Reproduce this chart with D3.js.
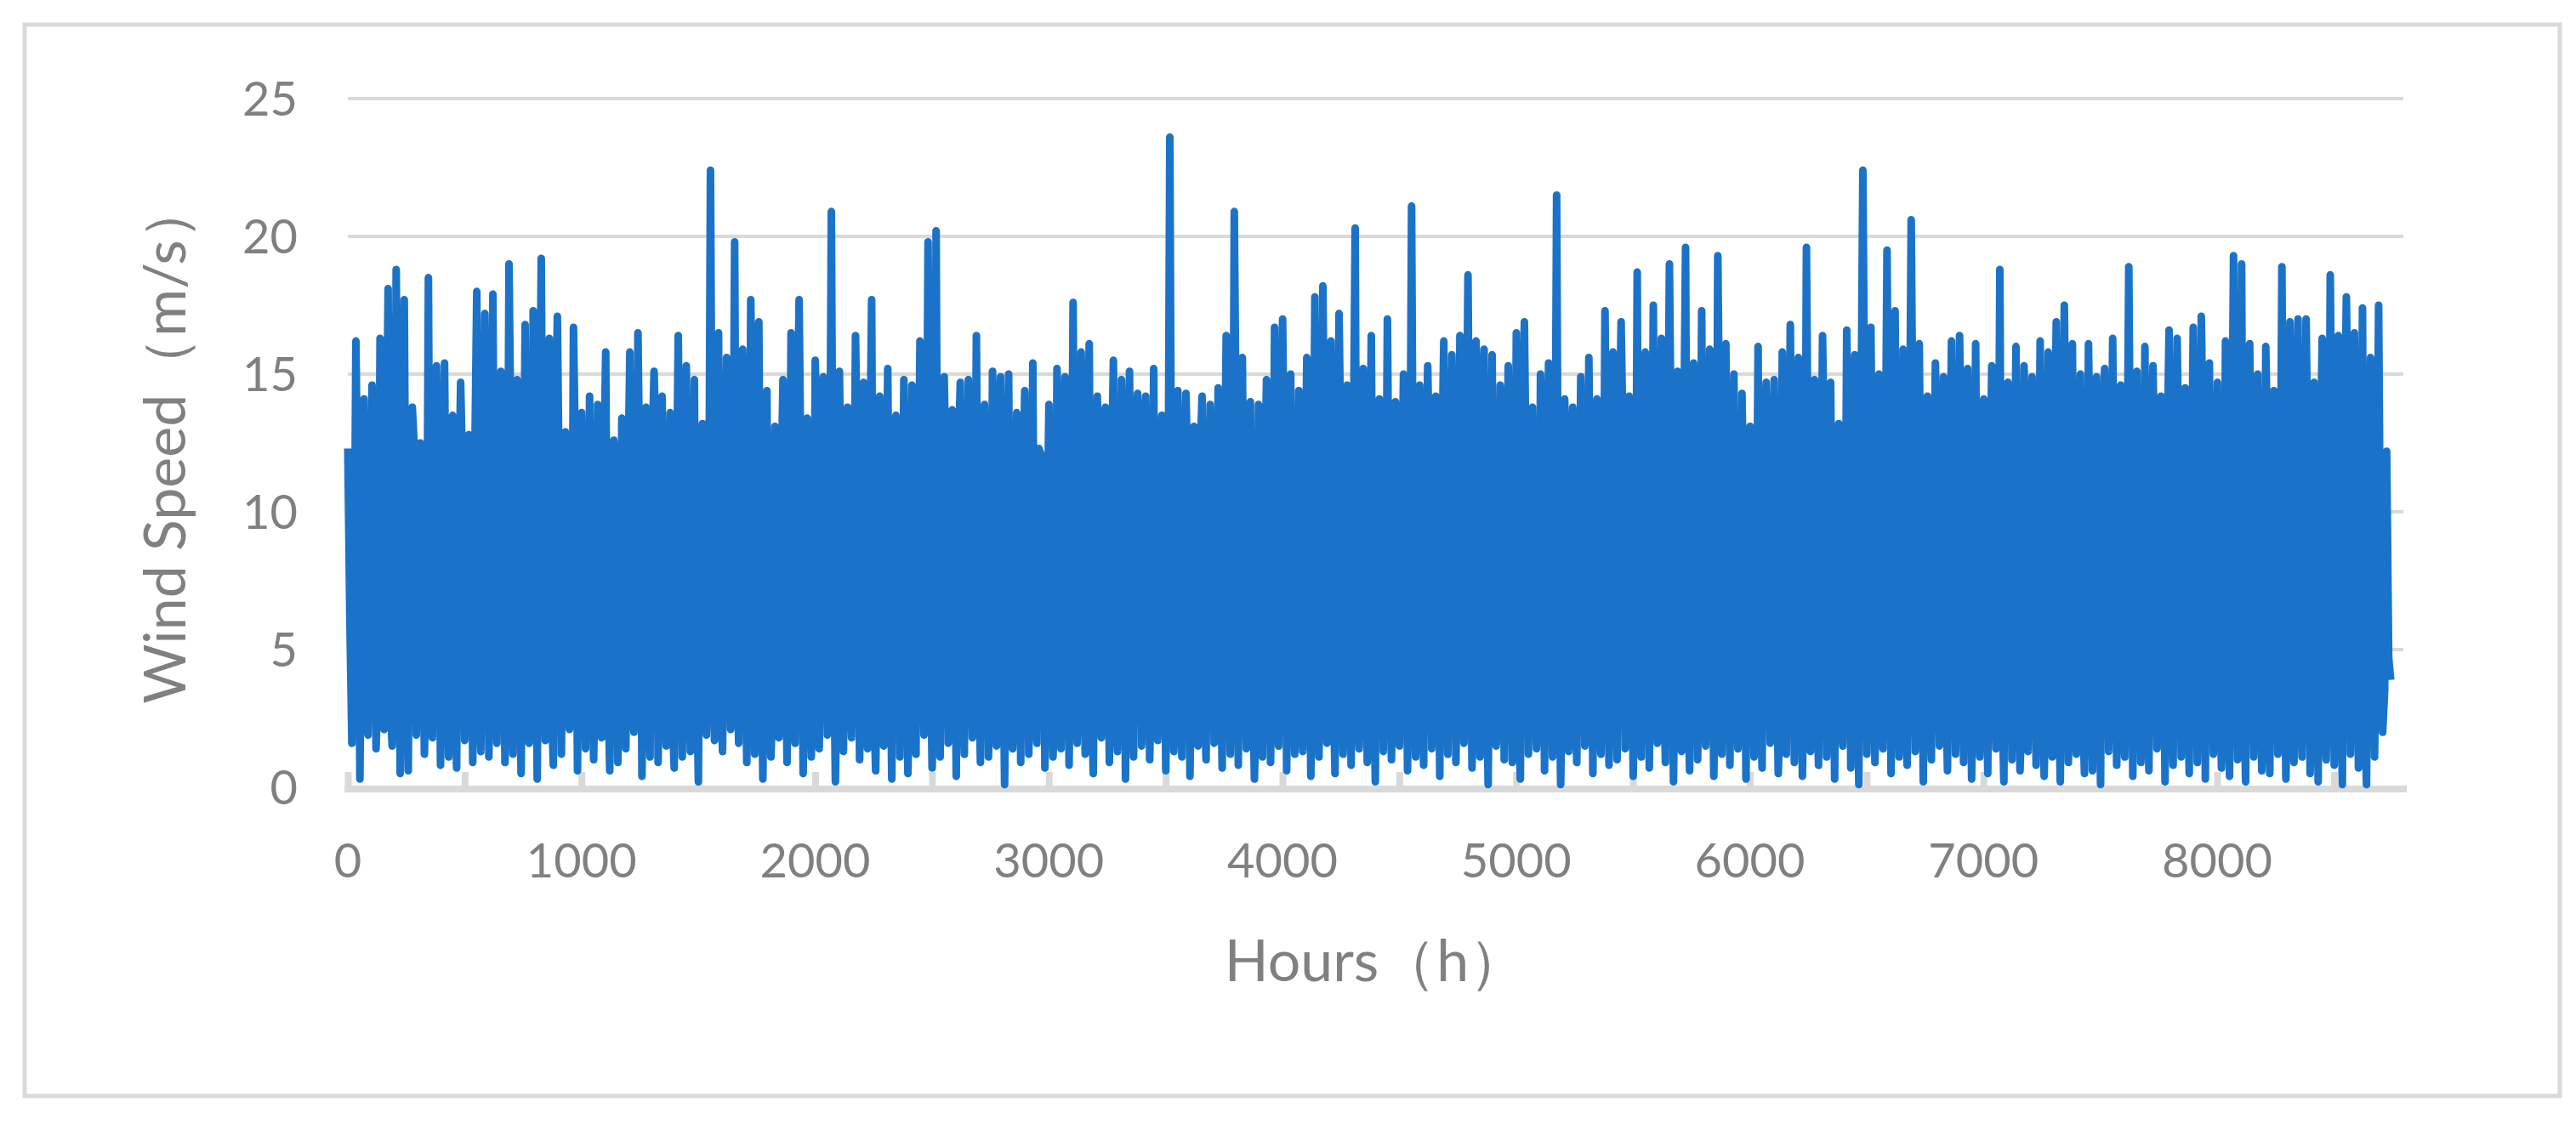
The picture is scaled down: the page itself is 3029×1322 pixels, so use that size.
<!DOCTYPE html>
<html><head><meta charset="utf-8">
<script src="https://cdn.jsdelivr.net/npm/d3@7"></script>
<style>body{margin:0;background:#fff}</style></head>
<body><svg id="c" width="3029" height="1322"></svg>
<script>
// Peak wind speed in each successive window across the year (read approx. from the picture)
const peaks = [12.3,16.2,14.1,14.6,16.3,18.1,18.8,17.7,13.8,12.5,18.5,15.3,15.4,13.5,14.7,12.8,18.0,17.2,17.9,15.1,
19.0,14.8,16.8,17.3,19.2,16.3,17.1,12.9,16.7,13.6,14.2,13.9,15.8,12.6,13.4,15.8,16.5,13.8,15.1,14.2,
13.6,16.4,15.3,14.8,13.2,22.4,16.5,15.6,19.8,15.9,17.7,16.9,14.4,13.1,14.8,16.5,17.7,13.4,15.5,14.9,
20.9,15.1,13.8,16.4,14.7,17.7,14.2,15.2,13.5,14.8,14.6,16.2,19.8,20.2,14.9,13.7,14.7,14.8,16.4,13.9,
15.1,14.9,15.0,13.6,14.4,15.4,12.1,13.9,15.2,14.9,17.6,15.8,16.1,14.2,13.8,15.5,14.8,15.1,14.3,14.2,
15.2,13.5,23.6,14.4,14.3,13.1,14.2,13.9,14.5,16.4,20.9,15.6,14.0,13.9,14.8,16.7,17.0,15.0,14.4,15.6,
17.8,18.2,16.2,17.2,14.6,20.3,15.2,16.4,14.1,17.0,14.0,15.0,21.1,14.6,15.3,14.2,16.2,15.7,16.4,18.6,
16.2,15.9,15.7,14.6,15.3,16.5,16.9,13.8,15.0,15.4,21.5,14.1,13.8,14.9,15.6,14.1,17.3,15.8,16.9,14.2,
18.7,15.8,17.5,16.3,19.0,15.1,19.6,15.4,17.3,15.9,19.3,16.1,15.0,14.3,13.1,16.0,14.7,14.8,15.8,16.8,
15.6,19.6,14.8,16.4,14.7,13.2,16.6,15.7,22.4,16.7,15.0,19.5,17.3,15.9,20.6,16.1,14.2,15.4,14.9,16.2,
16.4,15.2,16.1,14.1,15.3,18.8,14.7,16.0,15.3,14.9,16.2,15.8,16.9,17.5,16.1,15.0,16.1,14.9,15.2,16.3,
14.6,18.9,15.1,16.0,15.3,14.2,16.6,16.3,14.5,16.7,17.1,15.4,14.7,16.2,19.3,19.0,16.1,15.0,16.0,14.4,
18.9,16.9,17.0,17.0,14.7,16.3,18.6,16.4,17.8,16.5,17.4,15.6,17.5,12.2];
// Trough wind speed in each window
const troughs = [1.6,0.3,1.9,1.4,2.1,1.5,0.5,0.6,1.9,1.2,1.8,0.8,1.1,0.7,1.7,0.9,1.3,1.1,1.6,0.9,
1.2,0.5,1.6,0.3,1.7,0.8,1.2,2.1,0.6,1.4,1.0,1.8,0.6,0.9,1.4,2.0,0.4,1.1,0.9,1.5,
0.7,1.1,1.3,0.2,1.9,1.7,1.3,2.1,1.6,0.9,1.2,0.3,1.1,1.8,0.9,1.6,0.5,1.1,1.4,1.9,
0.2,1.3,1.8,1.0,1.4,0.6,1.5,0.3,1.1,0.5,1.2,1.9,0.7,1.1,1.6,0.4,1.2,1.8,0.9,1.1,
1.5,0.1,1.4,0.9,1.2,1.6,0.7,1.1,1.4,0.8,1.6,1.2,0.5,1.8,0.9,1.3,0.3,1.1,1.5,1.0,
1.7,0.6,1.3,1.1,0.4,1.5,1.0,1.6,0.7,1.2,0.8,1.4,0.3,1.1,0.9,1.5,0.6,1.2,1.3,0.4,
1.1,1.6,0.5,1.2,0.8,1.4,0.9,0.2,1.3,1.0,1.5,0.6,1.1,0.8,1.4,0.4,1.2,0.9,1.6,0.7,
1.1,0.1,1.5,1.0,0.9,0.3,1.2,1.4,0.6,1.1,0.1,1.3,0.9,1.5,0.5,1.2,0.8,1.0,1.4,0.4,
1.1,0.7,1.6,0.9,0.2,1.3,0.6,1.0,1.5,0.4,1.2,0.8,1.4,0.3,1.1,0.7,1.6,0.5,1.2,0.9,
0.4,1.3,0.8,1.1,0.3,1.5,0.7,0.1,1.2,0.9,1.4,0.5,1.1,0.8,1.3,0.2,1.0,1.5,0.6,1.2,
0.9,0.3,1.1,0.5,1.4,0.2,1.0,0.6,1.3,0.8,0.4,1.1,0.2,0.9,1.2,0.5,0.6,0.1,1.3,0.8,
1.1,0.4,0.9,0.6,1.4,0.2,0.8,1.1,0.5,0.9,0.3,1.2,0.7,0.4,1.0,0.2,1.1,0.6,0.5,1.2,
0.3,0.9,1.1,0.5,0.2,1.0,0.8,0.1,1.2,0.7,0.1,1.1,2.0,3.9];
// Intermediate (mid-range) hourly speeds between peaks and troughs
const mids = [6.2,9.8,4.1,11.5,7.3,3.2,10.4,5.6,12.3,8.1,2.9,9.2,6.8,4.7,11.1,7.9,3.8,10.9,5.1,8.7,
12.0,6.5,4.4,9.5,7.1,3.5,10.2,5.9,11.7,8.4];
const yTicks = [0,5,10,15,20,25];
const xTicks = [0,1000,2000,3000,4000,5000,6000,7000,8000];
const totalHours = 8760;

const svg = d3.select("#c");
svg.append("rect").attr("x",29).attr("y",29).attr("width",2981).attr("height",1260)
  .attr("fill","#fff").attr("stroke","#d9d9d9").attr("stroke-width",5);
const L=409,R=2826,T=116,B=926;
const x=d3.scaleLinear().domain([0,8797]).range([L,R]);
const y=d3.scaleLinear().domain([0,25]).range([B,T]);

svg.append("g").selectAll("line").data(yTicks.filter(d=>d>0)).join("line")
  .attr("x1",L).attr("x2",R).attr("y1",d=>y(d)).attr("y2",d=>y(d))
  .attr("stroke","#d9d9d9").attr("stroke-width",4);
const xa=svg.append("g").attr("transform",`translate(0,${B})`)
  .call(d3.axisBottom(x).tickValues(d3.range(0,8800,500)).tickSize(18).tickFormat(""));
xa.select(".domain").remove();
xa.selectAll("line").attr("stroke","#d9d9d9").attr("stroke-width",8).attr("transform","translate(0,-18)");
svg.append("line").attr("x1",L-4).attr("x2",R+4).attr("y1",B+2).attr("y2",B+2).attr("stroke","#d9d9d9").attr("stroke-width",8);

// build hourly-ish series: peak, mid, trough, mid in each window
const n=peaks.length, step=totalHours/n;
const pts=[];
for(let i=0;i<n;i++){
  const h=i*step;
  pts.push([h,peaks[i]]);
  pts.push([h+step*0.25,mids[i%mids.length]]);
  pts.push([h+step*0.5,troughs[i]]);
  if(i<n-1) pts.push([h+step*0.75,mids[(i+13)%mids.length]]);
}
svg.append("path").datum(pts).attr("fill","none").attr("stroke","#1a73c8")
  .attr("stroke-width",9).attr("stroke-linejoin","round")
  .attr("d",d3.line().x(d=>x(d[0])).y(d=>y(d[1])));

const font="Lato, 'Open Sans', sans-serif";
svg.append("g").selectAll("text").data(yTicks).join("text")
  .attr("x",350).attr("y",d=>y(d)).attr("dy","0.36em").attr("text-anchor","end")
  .attr("font-family",font).attr("font-size",56).attr("fill","#808080").text(d=>d);
svg.append("g").selectAll("text").data(xTicks).join("text")
  .attr("x",d=>x(d)).attr("y",1012).attr("dy","0.36em").attr("text-anchor","middle")
  .attr("font-family",font).attr("font-size",56).attr("fill","#808080").text(d=>d);
svg.append("text").attr("x",(L+R)/2).attr("y",1130).attr("dy","0.36em").attr("text-anchor","middle")
  .attr("font-family",font).attr("font-size",68).attr("fill","#808080").text("Hours（h）");
svg.append("text").attr("transform",`translate(194,${(T+B)/2}) rotate(-90)`).attr("dy","0.36em")
  .attr("text-anchor","middle").attr("font-family",font).attr("font-size",68).attr("fill","#808080")
  .text("Wind Speed（m/s）");
</script></body></html>
